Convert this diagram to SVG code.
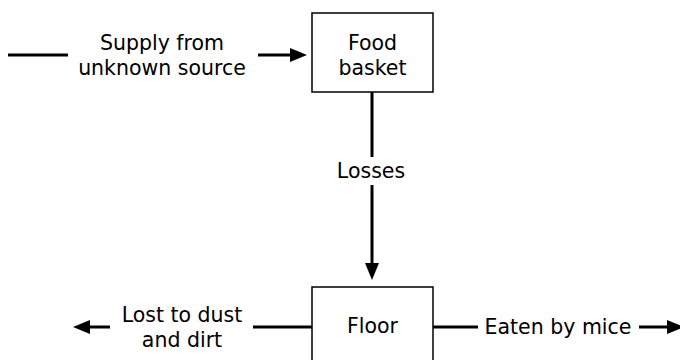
<svg xmlns="http://www.w3.org/2000/svg" width="680" height="360" viewBox="0 0 680 360">
<style>
.box{fill:#fff;stroke:#000;stroke-width:1.5}
.ln{stroke:#000;stroke-width:3;fill:none}
text{font-family:"DejaVu Sans","Liberation Sans",sans-serif;font-size:20.5px;fill:#000;text-anchor:middle}
</style>
<defs>
<marker id="ah" markerUnits="userSpaceOnUse" markerWidth="18" markerHeight="15" refX="0" refY="7" orient="auto" overflow="visible">
<path d="M0,0 L17,7 L0,14 z" fill="#000"/>
</marker>
</defs>
<rect width="680" height="360" fill="#fff"/>
<g id="connectors">
<line class="ln" x1="8" y1="55" x2="68" y2="55"/>
<line class="ln" x1="258" y1="55" x2="290" y2="55" marker-end="url(#ah)"/>
<text x="162" y="50">Supply from</text>
<text x="162" y="75">unknown source</text>
<line class="ln" x1="372" y1="92" x2="372" y2="157"/>
<line class="ln" x1="372" y1="185" x2="372" y2="263" marker-end="url(#ah)"/>
<text x="371" y="178">Losses</text>
<line class="ln" x1="312" y1="327" x2="253" y2="327"/>
<line class="ln" x1="110" y1="327" x2="90" y2="327" marker-end="url(#ah)"/>
<text x="182" y="322">Lost to dust</text>
<text x="182" y="347">and dirt</text>
<line class="ln" x1="433" y1="327" x2="478" y2="327"/>
<line class="ln" x1="639" y1="327" x2="667" y2="327" marker-end="url(#ah)"/>
<text x="558" y="334">Eaten by mice</text>
</g>
<g id="food-basket">
<rect class="box" x="312" y="13" width="121" height="79"/>
<text x="372.5" y="50">Food</text>
<text x="372.5" y="75">basket</text>
</g>
<g id="floor">
<rect class="box" x="312" y="287" width="121" height="85"/>
<text x="372.5" y="333">Floor</text>
</g>
</svg>
